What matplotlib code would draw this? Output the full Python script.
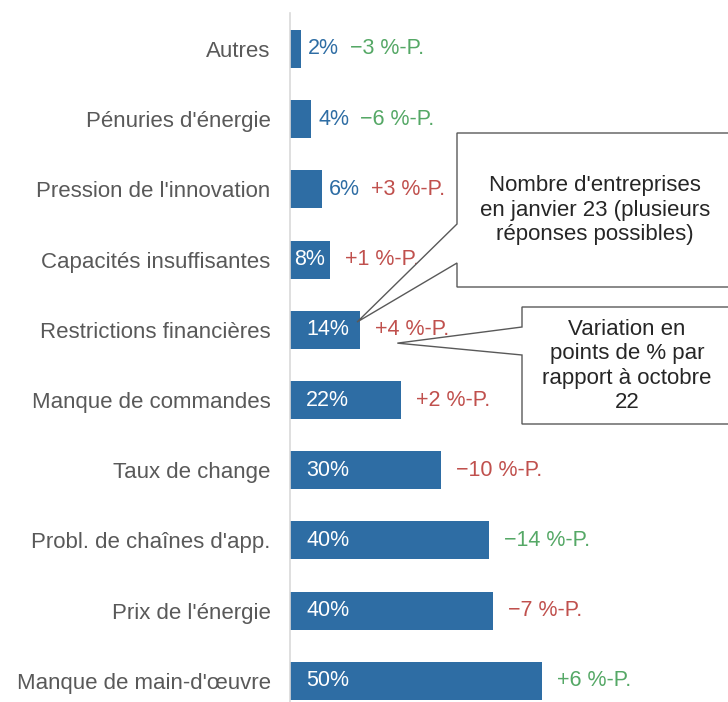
import matplotlib
matplotlib.use("Agg")
import matplotlib.pyplot as plt
from matplotlib.patches import Polygon

plt.rcParams['font.family'] = ['Liberation Sans', 'DejaVu Sans']

# data, top to bottom
categories = ["Autres", "Pénuries d'énergie", "Pression de l'innovation",
              "Capacités insuffisantes", "Restrictions financières",
              "Manque de commandes", "Taux de change",
              "Probl. de chaînes d'app.", "Prix de l'énergie",
              "Manque de main-d'œuvre"]
values = [2.2, 4.2, 6.3, 7.9, 13.9, 22.0, 30.0, 39.5, 40.3, 50.0]
value_labels = ["2%", "4%", "6%", "8%", "14%", "22%", "30%", "40%", "40%", "50%"]
changes = ["\u22123 %-P.", "\u22126 %-P.", "+3 %-P.", "+1 %-P.", "+4 %-P.",
           "+2 %-P.", "\u221210 %-P.", "\u221214 %-P.", "\u22127 %-P.", "+6 %-P."]
change_good = [True, True, False, False, False, False, False, True, False, True]

BLUE = "#2e6da4"
GREEN = "#55a866"
RED = "#c0504d"
GREY = "#595959"

W, H = 728, 702
fig = plt.figure(figsize=(W / 100, H / 100), dpi=100)
ax = fig.add_axes([290 / W, 0, 438 / W, 1 - 13 / H])
ax.set_xlim(0, 438 / 5.04)
# bar centres at 49 + 70.2*i pixels from top
top_px = 13
ax.set_ylim((H - 49) / 70.2, -(49 - top_px) / 70.2)

pos = list(range(len(categories)))
ax.barh(pos, values, height=0.54, color=BLUE)

ax.set_yticks(pos)
ax.set_yticklabels(categories, fontsize=16, color=GREY)
ax.tick_params(axis='y', length=0, pad=14)
ax.set_xticks([])
for s in ["top", "right", "bottom"]:
    ax.spines[s].set_visible(False)
ax.spines["left"].set_color("#d9d9d9")
ax.spines["left"].set_linewidth(1.2)

for i, (v, lab, ch, good) in enumerate(zip(values, value_labels, changes, change_good)):
    col = GREEN if good else RED
    if v < 7:
        t = ax.text(v + 1.4, i, lab, color=BLUE, fontsize=15.5, va='center', ha='left')
        ax.annotate(ch, xy=(1, 0.5), xycoords=t, xytext=(8, 0), textcoords='offset points',
                    va='center', ha='left', fontsize=15.5, color=col)
    else:
        if v < 10:
            ax.text(v / 2, i, lab, color='white', fontsize=15.5, va='center', ha='center')
        else:
            ax.text(3.2, i, lab, color='white', fontsize=15.5, va='center', ha='left')
        ax.annotate(ch, xy=(v, i), xycoords='data', xytext=(11, 0), textcoords='offset points',
                    va='center', ha='left', fontsize=15.5, color=col)


def fig_frac(x_px, y_px):
    return (x_px / W, 1 - y_px / H)


def tip_frac(x, y):
    d = ax.transData.transform((x, y))
    return tuple(fig.transFigure.inverted().transform(d))


fig.canvas.draw()

# callout 1: points at the 14% bar
tip1 = tip_frac(13.3, 3.89)
box1 = [fig_frac(457, 133), fig_frac(740, 133), fig_frac(740, 287), fig_frac(457, 287),
        fig_frac(457, 263), tip1, fig_frac(457, 224)]
fig.patches.append(Polygon(box1, closed=True, facecolor='white', edgecolor=GREY,
                           linewidth=1.0, transform=fig.transFigure, zorder=5))
fig.text(595 / W, 1 - 210 / H, "Nombre d'entreprises\nen janvier 23 (plusieurs\nréponses possibles)",
         ha='center', va='center', fontsize=16, color='#262626', linespacing=1.2, zorder=6)

# callout 2: points at the change label
tip2 = tip_frac(21.3, 4.19)
box2 = [fig_frac(522, 307), fig_frac(740, 307), fig_frac(740, 424), fig_frac(522, 424),
        fig_frac(522, 355), tip2, fig_frac(522, 327)]
fig.patches.append(Polygon(box2, closed=True, facecolor='white', edgecolor=GREY,
                           linewidth=1.0, transform=fig.transFigure, zorder=5))
fig.text(627 / W, 1 - 366 / H, "Variation en\npoints de % par\nrapport à octobre\n22",
         ha='center', va='center', fontsize=16, color='#262626', linespacing=1.2, zorder=6)

fig.savefig("out.png", dpi=100)
